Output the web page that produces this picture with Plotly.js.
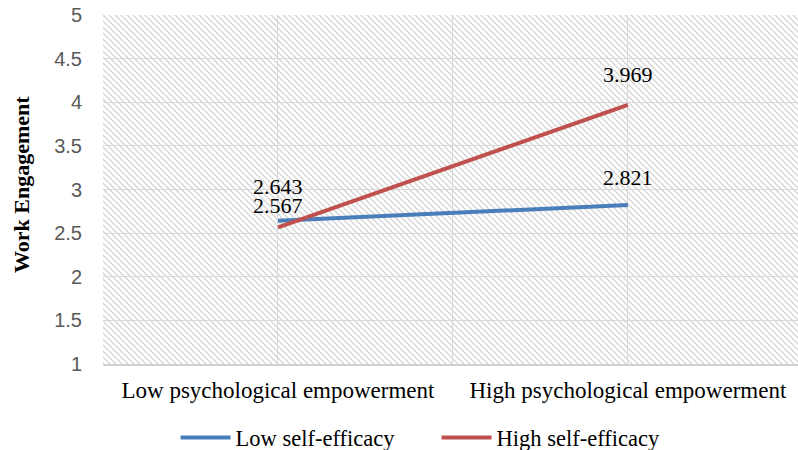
<!DOCTYPE html>
<html>
<head>
<meta charset="utf-8">
<script src="https://cdn.plot.ly/plotly-3.0.1.min.js"></script>
<style>html,body{margin:0;padding:0;background:#fff;}#chart{width:798px;height:450px;}</style>
</head>
<body>
<div id="chart"></div>
<script>
const categories = ['Low psychological empowerment', 'High psychological empowerment'];
const seriesNames = ['Low self-efficacy', 'High self-efficacy'];
const lowSelfEfficacy = [2.643, 2.821];
const highSelfEfficacy = [2.567, 3.969];
const yTicks = [1, 1.5, 2, 2.5, 3, 3.5, 4, 4.5, 5];
const yTickLabels = ['1', '1.5', '2', '2.5', '3', '3.5', '4', '4.5', '5'];
const yTitle = 'Work Engagement';

const colors = ['#4A7EBB', '#C0504D'];
const series = [lowSelfEfficacy, highSelfEfficacy];
const xIdx = categories.map((_, i) => i);

const traces = series.map((vals, s) => ({
  type: 'scatter', mode: 'lines',
  x: xIdx, y: vals, name: seriesNames[s],
  line: {color: colors[s], width: 4},
  hoverinfo: 'skip'
}));

// label offsets (pixels above point) to avoid overlap
const labelShift = [[34, 28], [22, 30]];
const annotations = [];
series.forEach((vals, s) => {
  vals.forEach((v, i) => {
    annotations.push({
      x: xIdx[i], y: v, xref: 'x', yref: 'y',
      text: v.toFixed(3), showarrow: false,
      yshift: labelShift[s][i], yanchor: 'middle',
      font: {family: 'Liberation Serif, Times New Roman, serif', size: 22, color: '#000'}
    });
  });
});
annotations.push({
  text: '<b>' + yTitle + '</b>', xref: 'paper', yref: 'paper',
  x: -0.117, y: 0.515, xanchor: 'center', yanchor: 'middle', textangle: -90, showarrow: false,
  font: {family: 'Liberation Serif, Times New Roman, serif', size: 22, color: '#000'}
});

const svg = '<svg xmlns="http://www.w3.org/2000/svg" width="695" height="349" preserveAspectRatio="none">' +
  '<defs><pattern id="p" width="6" height="6" patternUnits="userSpaceOnUse">' +
  '<path d="M0,0 L6,6 M-1,5 L1,7 M5,-1 L7,1" stroke="#d4d4d4" stroke-width="1.3"/>' +
  '</pattern></defs><rect width="695" height="349" fill="url(#p)"/></svg>';
const hatch = 'data:image/svg+xml;base64,' + btoa(svg);

const gridVals = [-0.5, 0, 0.5, 1, 1.5];
const gridText = ['', categories[0], '', categories[1], ''];

const layout = {
  width: 798, height: 450,
  margin: {l: 103, r: 0, t: 15, b: 86, autoexpand: false},
  paper_bgcolor: '#ffffff',
  plot_bgcolor: 'rgba(0,0,0,0)',
  showlegend: true,
  images: [{
    source: hatch, xref: 'paper', yref: 'paper', x: 0, y: 1,
    sizex: 1, sizey: 1, sizing: 'stretch', xanchor: 'left', yanchor: 'top', layer: 'below'
  }],
  xaxis: {
    type: 'linear', range: [-0.5, 1.486],
    tickmode: 'array', tickvals: gridVals, ticktext: gridText, tickangle: 0,
    showgrid: true, gridcolor: '#d9d9d9', gridwidth: 1,
    zeroline: false, showline: true, linecolor: '#d0d0d0', linewidth: 1.5,
    ticks: '', ticklabelstandoff: 5, automargin: false,
    tickfont: {family: 'Liberation Serif, Times New Roman, serif', size: 23, color: '#000'},
    fixedrange: true
  },
  yaxis: {
    range: [1, 5], tickmode: 'array', tickvals: yTicks, ticktext: yTickLabels,
    showgrid: true, gridcolor: '#d9d9d9', gridwidth: 1,
    zeroline: false, showline: false, ticks: '', ticklabelstandoff: 20, automargin: false,
    tickfont: {family: 'Liberation Sans, Arial, sans-serif', size: 20, color: '#595959'},
    fixedrange: true
  },
  legend: {
    orientation: 'h', xref: 'container', x: 0.22, xanchor: 'left',
    y: -0.212, yanchor: 'middle',
    font: {family: 'Liberation Serif, Times New Roman, serif', size: 22.5, color: '#000'},
    itemwidth: 50, entrywidth: 196, entrywidthmode: 'pixels',
    tracegroupgap: 0, bgcolor: 'rgba(0,0,0,0)'
  },
  annotations: annotations
};

Plotly.newPlot('chart', traces, layout, {displayModeBar: false, staticPlot: true});
</script>
</body>
</html>
